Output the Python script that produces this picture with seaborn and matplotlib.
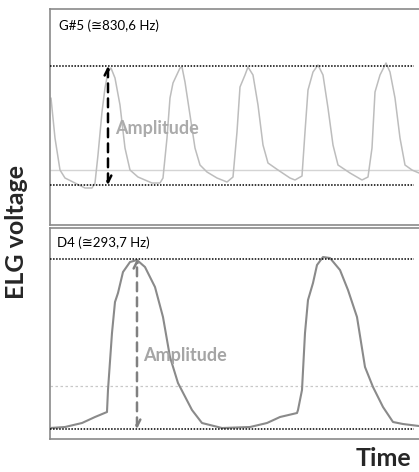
import matplotlib
matplotlib.use("Agg")
import matplotlib.pyplot as plt
import seaborn as sns
import pandas as pd

# -----------------------------
# Data (arbitrary units)
# -----------------------------
G5_LABEL = "G#5 (\u2245830,6 Hz)"
D4_LABEL = "D4 (\u2245293,7 Hz)"

g5_time = [1, 5, 10, 15, 25, 35, 42, 45, 48, 52, 55, 58, 61, 65, 70, 75, 80, 88,
           102, 110, 113, 117, 120, 123, 130, 132, 135, 140, 145, 150, 157, 167,
           177, 183, 187, 190, 195, 198, 203, 208, 213, 218, 228, 240, 245, 252,
           255, 258, 263, 268, 273, 278, 283, 288, 300, 312, 318, 322, 325, 330,
           336, 340, 345, 350, 355, 362, 369]
g5_volt = [92, 52, 20, 12, 7, 2, 2, 7, 35, 78, 102, 118, 122, 112, 85, 42, 20, 13,
           7, 7, 12, 52, 92, 107, 122, 123, 108, 75, 42, 25, 18, 12,
           8, 13, 58, 103, 115, 123, 115, 85, 45, 27, 20, 12, 10, 14,
           58, 100, 118, 125, 115, 82, 45, 25, 17, 10, 13, 42, 98, 115,
           127, 118, 92, 52, 25, 20, 17]

d4_time = [0, 15, 32, 45, 57, 58, 62, 65, 68, 73, 80, 87, 95, 105, 113, 120, 128,
           142, 152, 172, 200, 217, 230, 247, 248, 252, 255, 258, 263, 267, 273,
           280, 290, 298, 307, 315, 323, 333, 343, 353, 369]
d4_volt = [12, 13, 17, 23, 28, 50, 107, 138, 147, 168, 178, 180, 173, 153, 123, 83, 57,
           30, 17, 12, 13, 17, 23, 27, 30, 50, 107, 140, 157, 175, 183,
           182, 170, 150, 123, 73, 53, 33, 18, 16, 14]

# reference levels: (top of amplitude, bottom of amplitude, baseline)
g5_levels = [124, 5, 20]
d4_levels = [181, 11, 54]
g5_arrow_t = 58
d4_arrow_t = 87

sns.set_style("white")
plt.rcParams["font.family"] = ["Lato", "DejaVu Sans"]

fig = plt.figure(figsize=(4.19, 4.72), dpi=100)
ax_top = fig.add_axes([0.1193, 0.5233, 0.8807, 0.4576])
ax_bot = fig.add_axes([0.1193, 0.0699, 0.8807, 0.4470])


def style_panel(ax, ylim):
    ax.set_xlim(0, 369)
    ax.set_ylim(*ylim)
    ax.set_xticks([])
    ax.set_yticks([])
    ax.set_xlabel("")
    ax.set_ylabel("")
    ax.spines["right"].set_visible(False)
    for s in ["left", "top", "bottom"]:
        ax.spines[s].set_color("#8a8a8a")
        ax.spines[s].set_linewidth(1.2)


# -----------------------------
# Top panel: G#5
# -----------------------------
df_g5 = pd.DataFrame({"time": g5_time, "volt": g5_volt})
ax_top.axhline(g5_levels[2], color="#d4d4d4", lw=1.0, zorder=1)
sns.lineplot(data=df_g5, x="time", y="volt", ax=ax_top, color="#bdbdbd", lw=1.1, zorder=2)
ax_top.hlines(g5_levels[:2], 0, 364, colors="black", linestyles=(0, (1, 1)), lw=1.1, zorder=3)
ax_top.annotate("", xy=(g5_arrow_t, g5_levels[0]), xytext=(g5_arrow_t, g5_levels[1]),
                arrowprops=dict(arrowstyle="<->", color="black", lw=1.8,
                                linestyle=(0, (3.5, 2.5)), mutation_scale=12,
                                shrinkA=0, shrinkB=0))
ax_top.text(65, 62, "Amplitude", color="#ababab", fontsize=13, fontweight="bold",
            va="center", ha="left")
ax_top.text(9, 164, G5_LABEL, color="black", fontsize=9.5, va="center", ha="left")
style_panel(ax_top, (-35, 181))

# -----------------------------
# Bottom panel: D4
# -----------------------------
df_d4 = pd.DataFrame({"time": d4_time, "volt": d4_volt})
ax_bot.axhline(d4_levels[2], color="#c8c8c8", lw=0.9, linestyle=(0, (2, 2)), zorder=1)
sns.lineplot(data=df_d4, x="time", y="volt", ax=ax_bot, color="#8a8a8a", lw=1.5, zorder=2)
ax_bot.hlines(d4_levels[:2], 0, 364, colors="black", linestyles=(0, (1, 1)), lw=1.1, zorder=3)
ax_bot.annotate("", xy=(d4_arrow_t, d4_levels[0]), xytext=(d4_arrow_t, d4_levels[1]),
                arrowprops=dict(arrowstyle="<->", color="#808080", lw=1.8,
                                linestyle=(0, (3.5, 2.5)), mutation_scale=12,
                                shrinkA=0, shrinkB=0))
ax_bot.text(93, 85, "Amplitude", color="#a5a5a5", fontsize=13, fontweight="bold",
            va="center", ha="left")
ax_bot.text(7, 197, D4_LABEL, color="black", fontsize=9.5, va="center", ha="left")
style_panel(ax_bot, (1, 212))

# -----------------------------
# Axis titles
# -----------------------------
fig.text(17 / 419, 1 - 232 / 472, "ELG voltage", rotation=90, fontsize=18,
         fontweight="bold", ha="center", va="center")
fig.text(383 / 419, 1 - 458 / 472, "Time", fontsize=18, fontweight="bold",
         ha="center", va="center")

fig.savefig("out.png", dpi=100)
